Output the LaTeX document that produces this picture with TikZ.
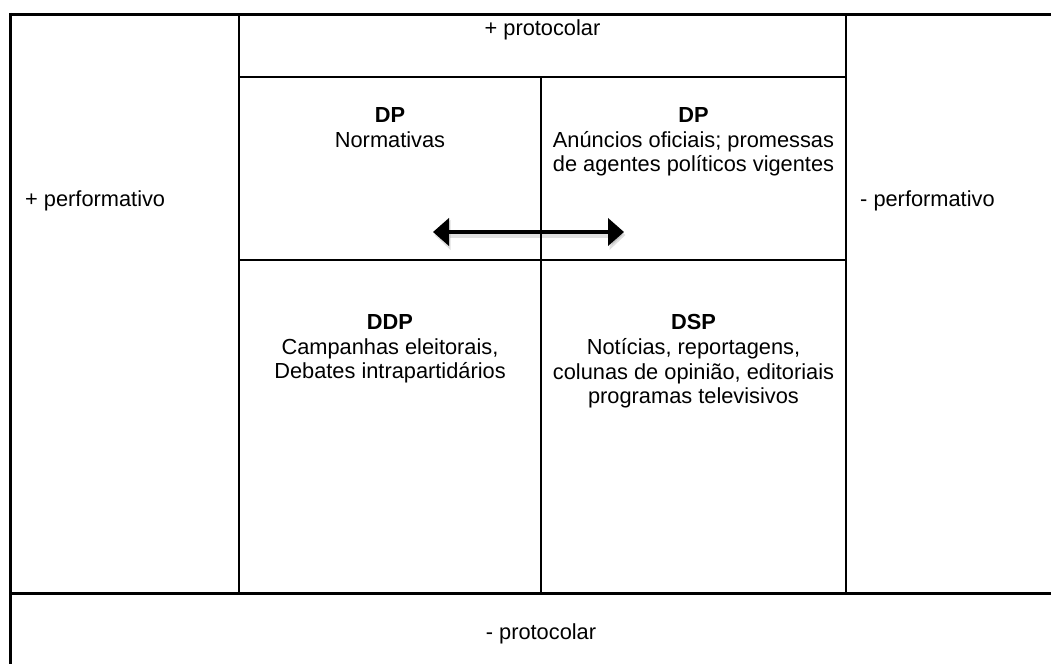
\documentclass[tikz,border=0pt]{standalone}
\usepackage{fontspec}
\setmainfont{Liberation Sans}
\usetikzlibrary{arrows.meta}
\begin{document}
\begin{tikzpicture}[x=1bp,y=-1bp,
  outer line/.style={line width=3bp},
  grid line/.style={line width=2.2bp},
  cell text/.style={font=\fontsize{21.8bp}{24.7bp}\selectfont, align=center, inner sep=0pt, anchor=north},
  side text/.style={font=\fontsize{21.8bp}{24.7bp}\selectfont, inner sep=0pt},
  dblarrow/.style={line width=4bp, {Triangle[length=16bp,width=27bp]}-{Triangle[length=16bp,width=27bp]}},
  arrowshadow/.style={line width=5bp, black, opacity=0.12, {Triangle[length=16bp,width=29bp]}-{Triangle[length=16bp,width=29bp]}}
]
\useasboundingbox (0,0) rectangle (1051,664);
\fill[white] (0,0) rectangle (1051,664);
% outer frame (open on right and bottom)
\draw[outer line] (9.3,14.5) -- (1051,14.5);
\draw[outer line] (10.7,13) -- (10.7,664);
% grid
\draw[grid line] (239.3,14.5) -- (239.3,593.5);
\draw[grid line] (845.8,14.5) -- (845.8,593.5);
\draw[grid line] (239.3,77) -- (845.8,77);
\draw[grid line] (541,77) -- (541,593.5);
\draw[grid line] (239.3,260.2) -- (845.8,260.2);
\draw[grid line] (10.7,593.5) -- (1051,593.5);
% labels
\node[side text, anchor=base] (ptop) at (542.5,36) {+ protocolar};
\node[side text, anchor=base] (pbot) at (541,639) {- protocolar};
\node[side text, anchor=base west] (pfl) at (25,207) {+ performativo};
\node[side text, anchor=base west] (pfr) at (860,207) {- performativo};
% cells
\node[cell text] (dpl) at (390,107.3) {\textbf{DP}\\Normativas};
\node[cell text] (dpr) at (693.5,107.3) {\textbf{DP}\\An\'uncios oficiais; promessas\\de agentes pol\'iticos vigentes};
\node[cell text] (ddp) at (390,314.3) {\textbf{DDP}\\Campanhas eleitorais,\\Debates intrapartid\'arios};
\node[cell text] (dsp) at (693.5,314.3) {\textbf{DSP}\\Not\'icias, reportagens,\\colunas de opini\~ao, editoriais\\programas televisivos};
% arrow
\coordinate (arrL) at (433,232);
\coordinate (arrR) at (624,232);
\draw[arrowshadow] ([shift={(1.5,3)}]arrL) -- ([shift={(1.5,3)}]arrR);
\draw[dblarrow] (arrL) -- (arrR);
\end{tikzpicture}
\end{document}
